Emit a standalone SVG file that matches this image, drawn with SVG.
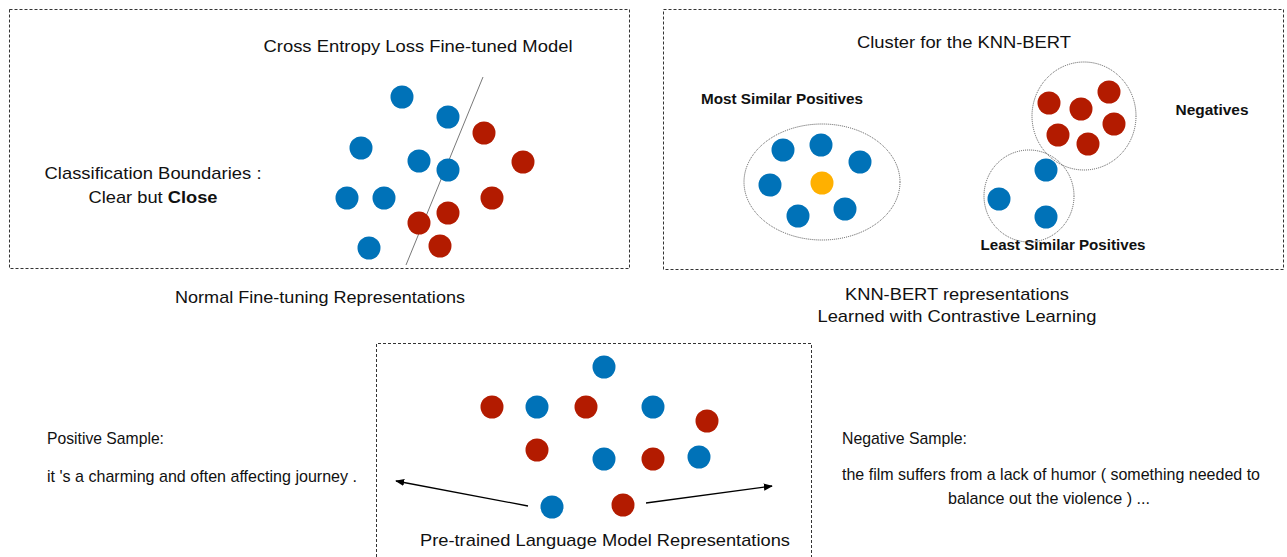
<svg xmlns="http://www.w3.org/2000/svg" width="1287" height="557" viewBox="0 0 1287 557">
<defs>
<marker id="ah" viewBox="0 0 10 10" refX="9" refY="5" markerWidth="7" markerHeight="7" orient="auto-start-reverse">
<path d="M0,1 L10,5 L0,9 Z" fill="#000"/>
</marker>
</defs>
<style>
text{font-family:"Liberation Sans",Arial,sans-serif;fill:#111;}
.t{font-size:17px;}
.b{font-size:15px;font-weight:bold;}
.s{font-size:17px;}
.box{fill:none;stroke:#333;stroke-width:1;stroke-dasharray:3,2;}
.cl{fill:none;stroke:#555;stroke-width:1;stroke-dasharray:1,1;}
.bl{fill:#0072B8;}
.rd{fill:#B31B00;}
.or{fill:#FFB000;}
</style>
<rect width="1287" height="557" fill="#fff"/>

<g id="box-normal">
<rect class="box" x="9.5" y="9.5" width="620" height="259"/>
<text class="t" x="418" y="52" text-anchor="middle" textLength="309" lengthAdjust="spacingAndGlyphs">Cross Entropy Loss Fine-tuned Model</text>
<text class="t" x="153" y="179" text-anchor="middle" textLength="217" lengthAdjust="spacingAndGlyphs">Classification Boundaries :</text>
<text class="t" x="153" y="203" text-anchor="middle" textLength="129" lengthAdjust="spacingAndGlyphs">Clear but <tspan font-weight="bold">Close</tspan></text>
<line x1="483" y1="77" x2="406" y2="265" stroke="#555" stroke-width="0.8"/>
<circle class="bl" cx="402" cy="97" r="11.5"/>
<circle class="bl" cx="448" cy="117" r="11.5"/>
<circle class="bl" cx="361" cy="148" r="11.5"/>
<circle class="bl" cx="419" cy="161" r="11.5"/>
<circle class="bl" cx="448" cy="170" r="11.5"/>
<circle class="bl" cx="347" cy="198" r="11.5"/>
<circle class="bl" cx="384" cy="198" r="11.5"/>
<circle class="bl" cx="369" cy="248" r="11.5"/>
<circle class="rd" cx="484" cy="133" r="11.5"/>
<circle class="rd" cx="523" cy="162" r="11.5"/>
<circle class="rd" cx="492" cy="198" r="11.5"/>
<circle class="rd" cx="448" cy="213" r="11.5"/>
<circle class="rd" cx="419" cy="223" r="11.5"/>
<circle class="rd" cx="440" cy="246" r="11.5"/>
</g>

<g id="box-knn">
<rect class="box" x="663.5" y="9.5" width="620" height="260"/>
<text class="t" x="964" y="48" text-anchor="middle" textLength="214" lengthAdjust="spacingAndGlyphs">Cluster for the KNN-BERT</text>
<text class="b" x="782" y="104" text-anchor="middle" textLength="162" lengthAdjust="spacingAndGlyphs">Most Similar Positives</text>
<text class="b" x="1212" y="115" text-anchor="middle" textLength="73" lengthAdjust="spacingAndGlyphs">Negatives</text>
<text class="b" x="1063" y="250" text-anchor="middle" textLength="165" lengthAdjust="spacingAndGlyphs">Least Similar Positives</text>
<ellipse class="cl" cx="822" cy="182" rx="78" ry="58"/>
<ellipse class="cl" cx="1084" cy="116" rx="52" ry="54"/>
<ellipse class="cl" cx="1029" cy="196" rx="45" ry="46"/>
<circle class="bl" cx="783" cy="150" r="11.5"/>
<circle class="bl" cx="821" cy="145" r="11.5"/>
<circle class="bl" cx="860" cy="162" r="11.5"/>
<circle class="bl" cx="770" cy="185" r="11.5"/>
<circle class="bl" cx="798" cy="216" r="11.5"/>
<circle class="bl" cx="845" cy="209" r="11.5"/>
<circle class="or" cx="822" cy="183" r="11.5"/>
<circle class="rd" cx="1049" cy="103" r="11.5"/>
<circle class="rd" cx="1081" cy="109" r="11.5"/>
<circle class="rd" cx="1109" cy="92" r="11.5"/>
<circle class="rd" cx="1114" cy="124" r="11.5"/>
<circle class="rd" cx="1058" cy="135" r="11.5"/>
<circle class="rd" cx="1088" cy="144" r="11.5"/>
<circle class="bl" cx="1046" cy="170" r="11.5"/>
<circle class="bl" cx="999" cy="199" r="11.5"/>
<circle class="bl" cx="1046" cy="217" r="11.5"/>
</g>

<g id="labels-top">
<text class="t" x="320" y="303" text-anchor="middle" textLength="290" lengthAdjust="spacingAndGlyphs">Normal Fine-tuning Representations</text>
<text class="t" x="957" y="300" text-anchor="middle" textLength="224" lengthAdjust="spacingAndGlyphs">KNN-BERT representations</text>
<text class="t" x="957" y="322" text-anchor="middle" textLength="279" lengthAdjust="spacingAndGlyphs">Learned with Contrastive Learning</text>
</g>

<g id="box-pretrained">
<path class="box" d="M376.5,557 V343.5 H811.5 V557"/>
<circle class="bl" cx="604" cy="367" r="11.5"/>
<circle class="rd" cx="492" cy="407" r="11.5"/>
<circle class="bl" cx="537" cy="407" r="11.5"/>
<circle class="rd" cx="586" cy="407" r="11.5"/>
<circle class="bl" cx="653" cy="407" r="11.5"/>
<circle class="rd" cx="707" cy="421" r="11.5"/>
<circle class="rd" cx="537" cy="450" r="11.5"/>
<circle class="bl" cx="604" cy="459" r="11.5"/>
<circle class="rd" cx="653" cy="459" r="11.5"/>
<circle class="bl" cx="699" cy="457" r="11.5"/>
<circle class="bl" cx="552" cy="507" r="11.5"/>
<circle class="rd" cx="623" cy="505" r="11.5"/>
<text class="t" x="605" y="546" text-anchor="middle" textLength="370" lengthAdjust="spacingAndGlyphs">Pre-trained Language Model Representations</text>
</g>

<g id="positive-sample">
<text class="s" x="47" y="444" textLength="117" lengthAdjust="spacingAndGlyphs">Positive Sample:</text>
<text class="s" x="47" y="482" textLength="310" lengthAdjust="spacingAndGlyphs">it 's a charming and often affecting journey .</text>
</g>

<g id="negative-sample">
<text class="s" x="842" y="444" textLength="125" lengthAdjust="spacingAndGlyphs">Negative Sample:</text>
<text class="s" x="1051" y="480" text-anchor="middle" textLength="418" lengthAdjust="spacingAndGlyphs">the film suffers from a lack of humor ( something needed to</text>
<text class="s" x="1049" y="504" text-anchor="middle" textLength="202" lengthAdjust="spacingAndGlyphs">balance out the violence ) ...</text>
</g>

<g id="connectors">
<line x1="528" y1="506" x2="396" y2="481" stroke="#000" stroke-width="1.3" marker-end="url(#ah)"/>
<line x1="646" y1="503" x2="772" y2="486" stroke="#000" stroke-width="1.3" marker-end="url(#ah)"/>
</g>
</svg>
